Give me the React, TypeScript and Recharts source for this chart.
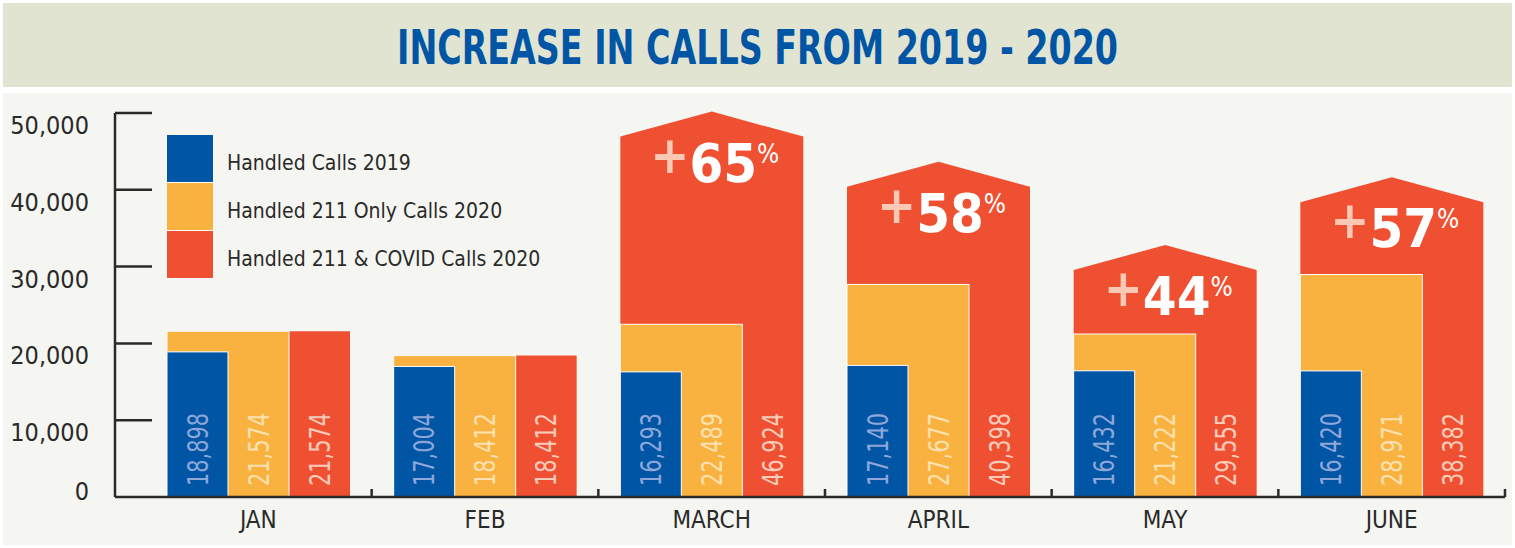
import { BarChart, Bar, XAxis, YAxis } from 'recharts'

const months = ['JAN', 'FEB', 'MARCH', 'APRIL', 'MAY', 'JUNE']
const calls2019 = [18898, 17004, 16293, 17140, 16432, 16420]
const only211 = [21574, 18412, 22489, 27677, 21222, 28971]
const covid211 = [21574, 18412, 46924, 40398, 29555, 38382]
const increasePct = [null, null, 65, 58, 44, 57]
const yTicks = [0, 10000, 20000, 30000, 40000, 50000]

const data = months.map((m, i) => ({
  month: m,
  calls2019: calls2019[i],
  only211: only211[i],
  covid211: covid211[i],
  pct: increasePct[i],
}))

const BLUE = '#0055a5'
const YELLOW = '#f9b13f'
const RED = '#ef5032'
const INK = '#2a2a2a'
const FONT = '"DejaVu Sans Condensed", "Liberation Sans Narrow", Roboto, sans-serif'
const AXIS_X = 115
const PLOT_BOTTOM = 497

const fmt = (v: number) => v.toLocaleString('en-US')

function VLabel({ cx, value, color }: { cx: number; value: number; color: string }) {
  const y = PLOT_BOTTOM - 11
  return (
    <text
      x={cx}
      y={y}
      transform={`rotate(-90, ${cx}, ${y})`}
      dominantBaseline="central"
      fontFamily={FONT}
      fontSize={29}
      textLength={73}
      lengthAdjust="spacingAndGlyphs"
      fill={color}
    >
      {fmt(value)}
    </text>
  )
}

function PctLabel({ cx, base, pct }: { cx: number; base: number; pct: number }) {
  return (
    <text x={cx} y={base} textAnchor="middle" fontFamily={FONT} fontWeight="bold" fill="#fff">
      <tspan fontSize={52} dy={-9} fill="#fbc9b3">+</tspan>
      <tspan fontSize={54} dy={9}>{pct}</tspan>
      <tspan fontSize={26} fontWeight="normal" dy={-19}>%</tspan>
    </text>
  )
}

// red bar spans the whole group, gets a roof when it rises above the 211-only bar
const RedShape = (props: any) => {
  const { x, y, width, height, payload } = props
  const left = x
  const right = x + width * 3
  const bottom = y + height
  const roof = payload.covid211 > payload.only211
  const path = roof
    ? `M${left},${bottom} L${left},${y} L${(left + right) / 2},${y - 25} L${right},${y} L${right},${bottom} Z`
    : `M${left},${bottom} L${left},${y} L${right},${y} L${right},${bottom} Z`
  return (
    <g>
      <path d={path} fill={RED} />
      <VLabel cx={x + width * 2.5} value={payload.covid211} color="#fbcbb9" />
      {payload.pct != null && <PctLabel cx={(left + right) / 2 + 3} base={y + 45} pct={payload.pct} />}
    </g>
  )
}

const YellowShape = (props: any) => {
  const { x, y, width, height, payload } = props
  return (
    <g>
      <rect x={x - width} y={y} width={width * 2} height={height} fill={YELLOW} stroke="#fff" strokeWidth={1} />
      <VLabel cx={x + width / 2} value={payload.only211} color="#fde2b0" />
    </g>
  )
}

const BlueShape = (props: any) => {
  const { x, y, width, height, payload } = props
  return (
    <g>
      <rect x={x - width * 2} y={y} width={width} height={height} fill={BLUE} stroke="#fff" strokeWidth={1} />
      <VLabel cx={x - width * 1.5} value={payload.calls2019} color="#8ea6d8" />
    </g>
  )
}

const YTick = (props: any) => {
  const { y, payload } = props
  const v = payload.value
  return (
    <g>
      {v !== 0 && <line x1={AXIS_X} x2={AXIS_X + 37} y1={y} y2={y} stroke={INK} strokeWidth={2.5} />}
      <text x={89} y={v === 0 ? y + 3 : y + 21} textAnchor="end" fontFamily={FONT} fontSize={25} fill={INK}>
        {fmt(v)}
      </text>
    </g>
  )
}

const XTick = (props: any) => {
  const { x, payload } = props
  const half = payload.offset || 113
  return (
    <g>
      <line x1={x + half} x2={x + half} y1={PLOT_BOTTOM} y2={PLOT_BOTTOM - 8} stroke={INK} strokeWidth={2.5} />
      <text x={x} y={PLOT_BOTTOM + 31} textAnchor="middle" fontFamily={FONT} fontSize={24} fill={INK}>
        {payload.value}
      </text>
    </g>
  )
}

const legendItems = [
  { label: 'Handled Calls 2019', color: BLUE },
  { label: 'Handled 211 Only Calls 2020', color: YELLOW },
  { label: 'Handled 211 & COVID Calls 2020', color: RED },
]

const LegendBox = () => (
  <div style={{ position: 'absolute', left: 167, top: 135, fontFamily: FONT }}>
    {legendItems.map((it) => (
      <div key={it.label} style={{ display: 'flex', alignItems: 'center', height: 48 }}>
        <div style={{ width: 46, height: 47, background: it.color, borderBottom: '1px solid #fff' }} />
        <span style={{ marginLeft: 14, marginTop: 8, fontSize: 21, color: INK, whiteSpace: 'nowrap' }}>{it.label}</span>
      </div>
    ))}
  </div>
)

export default function App() {
  return (
    <div style={{ position: 'relative', width: 1515, height: 548, background: '#fff', overflow: 'hidden' }}>
      <style>{'body{margin:0}'}</style>
      <div style={{ position: 'absolute', left: 3, top: 3, width: 1509, height: 84, background: '#e2e4d2' }} />
      <div style={{ position: 'absolute', left: 3, top: 93, width: 1509, height: 452, background: '#f5f6f1' }} />
      <svg style={{ position: 'absolute', left: 0, top: 0 }} width={1515} height={90}>
        <text
          x={397}
          y={64}
          textLength={721}
          lengthAdjust="spacingAndGlyphs"
          fontFamily={FONT}
          fontWeight="bold"
          fontSize={48}
          fill={BLUE}
        >
          INCREASE IN CALLS FROM 2019 - 2020
        </text>
      </svg>
      <div style={{ position: 'absolute', left: 0, top: 0 }}>
        <BarChart
          width={1515}
          height={548}
          data={data}
          margin={{ top: 113, right: 10, bottom: 0, left: 0 }}
          barCategoryGap={22}
          barGap={0}
        >
          <XAxis
            dataKey="month"
            height={51}
            padding={{ left: 30, right: 0 }}
            axisLine={{ stroke: INK, strokeWidth: 2.5 }}
            tickLine={false}
            tick={<XTick />}
            interval={0}
          />
          <YAxis
            width={115}
            domain={[0, 50000]}
            ticks={yTicks}
            axisLine={{ stroke: INK, strokeWidth: 2.5 }}
            tickLine={false}
            tick={<YTick />}
            interval={0}
          />
          <Bar dataKey="covid211" name="Handled 211 & COVID Calls 2020" fill={RED} shape={<RedShape />} isAnimationActive={false} />
          <Bar dataKey="only211" name="Handled 211 Only Calls 2020" fill={YELLOW} shape={<YellowShape />} isAnimationActive={false} />
          <Bar dataKey="calls2019" name="Handled Calls 2019" fill={BLUE} shape={<BlueShape />} isAnimationActive={false} />
        </BarChart>
      </div>
      <LegendBox />
    </div>
  )
}
